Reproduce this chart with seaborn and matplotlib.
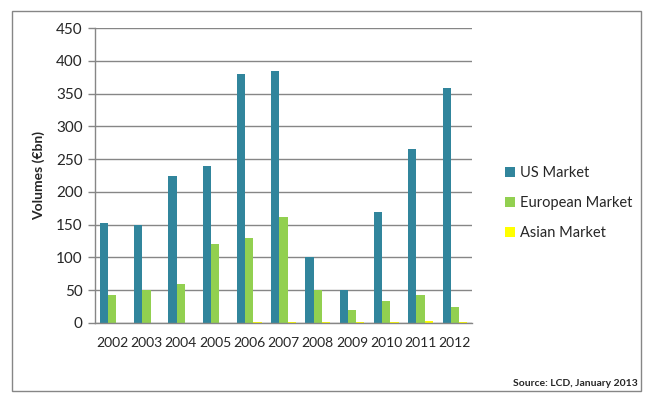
import numpy as np
import pandas as pd
import matplotlib.pyplot as plt
import seaborn as sns
from matplotlib.patches import Rectangle

years = ["2002", "2003", "2004", "2005", "2006", "2007", "2008", "2009", "2010", "2011", "2012"]
us_market = [152, 150, 225, 240, 380, 385, 100, 50, 170, 265, 358]
eu_market = [42, 50, 60, 120, 130, 162, 50, 20, 34, 42, 25]
asia_market = [0, 0, 0, 0, 2, 2, 2, 2, 2, 3, 2]
series_names = ["US Market", "European Market", "Asian Market"]
colors = ["#31859C", "#92D050", "#FFFF00"]

df = pd.DataFrame({
    "year": years * 3,
    "value": us_market + eu_market + asia_market,
    "market": [series_names[0]] * 11 + [series_names[1]] * 11 + [series_names[2]] * 11,
})

sns.set_style("white")
plt.rcParams["font.family"] = ["Lato", "DejaVu Sans"]

fig = plt.figure(figsize=(6.55, 3.99), dpi=100)
ax = fig.add_axes([95 / 655, 1 - 323 / 399, (472 - 95) / 655, (323 - 28) / 399])

sns.barplot(data=df, x="year", y="value", hue="market", palette=colors,
            width=0.72, gap=0, saturation=1, linewidth=0, ax=ax, legend=True)

ax.set_ylim(0, 450)
ax.set_yticks(np.arange(0, 451, 50))
ax.set_xlim(-0.5, len(years) - 0.5)
ax.yaxis.grid(True, color="#868686", linewidth=1)
ax.set_axisbelow(True)
for s in ["top", "right"]:
    ax.spines[s].set_visible(False)
for s in ["left", "bottom"]:
    ax.spines[s].set_color("#868686")
    ax.spines[s].set_linewidth(1)

# category boundary ticks on x axis
ax.set_xticks(np.arange(-0.5, len(years), 1), minor=True)
ax.tick_params(axis="x", which="minor", length=5, color="#868686", width=1)
ax.tick_params(axis="x", which="major", length=0, labelsize=10, pad=10)
ax.tick_params(axis="y", length=5, color="#868686", width=1, labelsize=11, pad=4, left=True)
ax.set_xlabel("")
ax.set_ylabel("Volumes (€bn)", fontsize=10, fontweight="bold", labelpad=8)

handles, labels = ax.get_legend_handles_labels()
ax.legend(handles, labels, loc="center left", bbox_to_anchor=(492 / 655, 196 / 399),
          bbox_transform=fig.transFigure, frameon=False, fontsize=10.5,
          handlelength=0.7, handleheight=0.7, handletextpad=0.3, labelspacing=1.1)

fig.text(638 / 655, 1 - 383 / 399, "Source: LCD, January 2013", ha="right", va="center",
         fontsize=7.5, fontweight="bold")

fig.patches.append(Rectangle((12 / 655, 1 - 391 / 399), (641 - 12) / 655, (391 - 11) / 399,
                             transform=fig.transFigure, fill=False, edgecolor="#868686",
                             linewidth=1))

fig.savefig("out.png", dpi=100)
